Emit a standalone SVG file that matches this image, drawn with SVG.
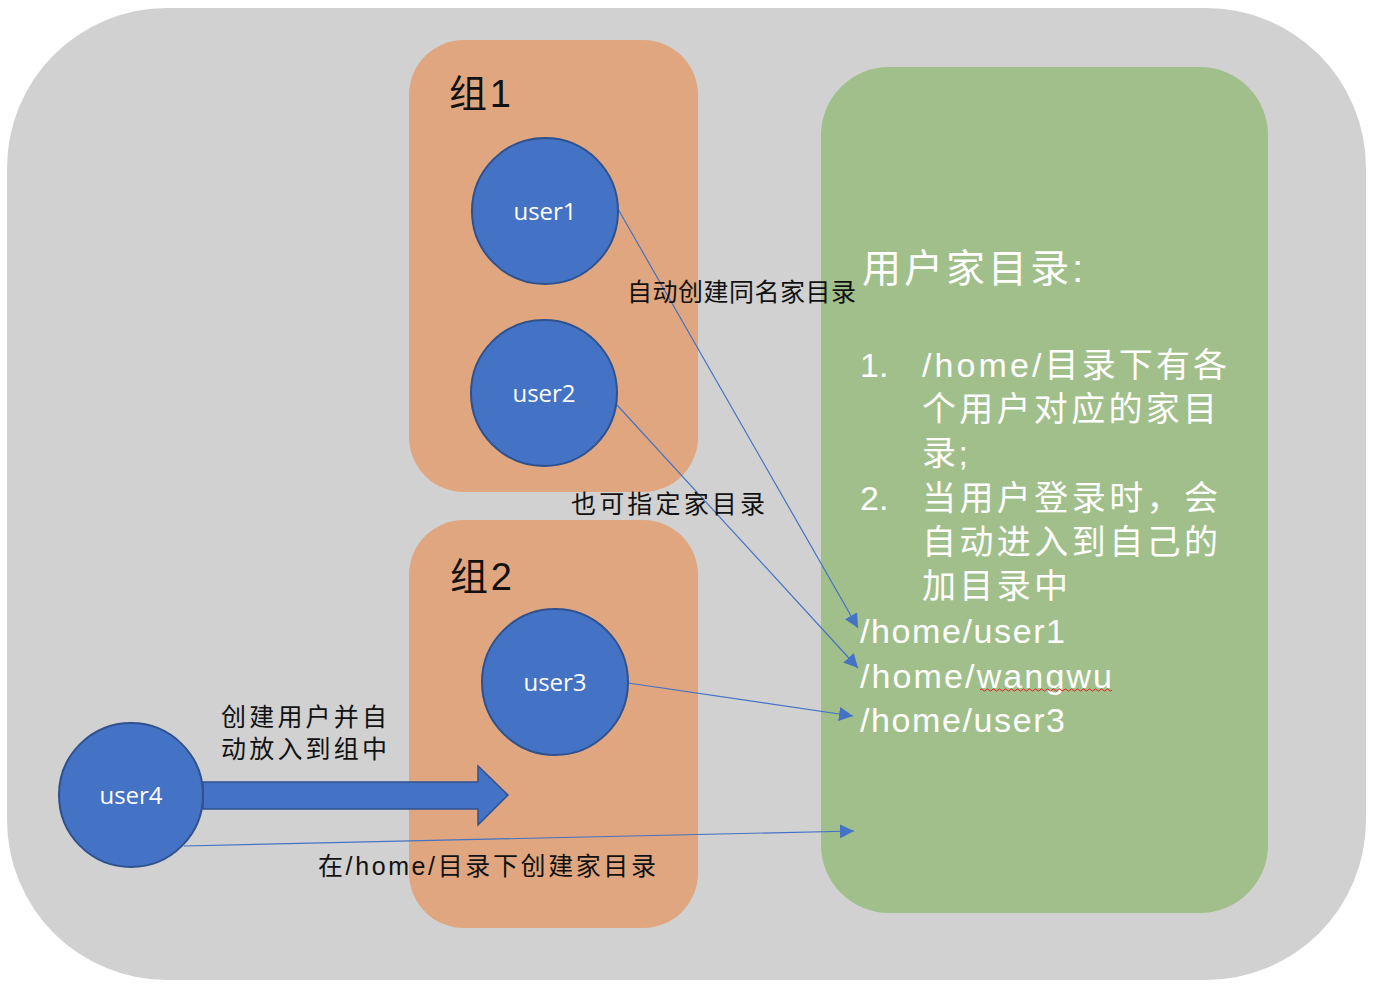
<svg xmlns="http://www.w3.org/2000/svg" width="1373" height="987" viewBox="0 0 1373 987">
<style>
.user{fill:#4472C4;stroke:#2F528F;stroke-width:2}
.ut{fill:#fff;font-family:"Open Sans","Noto Sans","DejaVu Sans",sans-serif;font-size:24px;text-anchor:middle}
.lbl{fill:#111;font-family:"Liberation Sans","Noto Sans CJK SC",sans-serif;font-size:25px}
.gt{fill:#111;font-family:"Liberation Sans","Noto Sans CJK SC",sans-serif;font-size:38px}
.wt{fill:#fff;font-family:"Liberation Sans","Noto Sans CJK SC",sans-serif;font-size:34px}
.wt.title{font-size:39px}
.conn{stroke:#4472C4;stroke-width:1.2;fill:none;marker-end:url(#ah)}
</style>
<defs>
<marker id="ah" viewBox="0 0 10 10" refX="10" refY="5" markerWidth="14" markerHeight="14" markerUnits="userSpaceOnUse" orient="auto">
<path d="M0,0 L10,5 L0,10 z" fill="#4472C4"/>
</marker>
</defs>
<rect width="1373" height="987" fill="#fff"/>
<g id="background"><rect x="7" y="8" width="1359" height="972" rx="160" ry="160" fill="#D1D1D1"/></g>
<g id="group1"><rect x="409" y="40" width="289" height="452" rx="55" ry="55" fill="#E0A67F"/><text class="gt" x="449" y="107" textLength="62" lengthAdjust="spacing">组1</text></g>
<g id="group2"><rect x="409" y="520" width="289" height="408" rx="55" ry="55" fill="#E0A67F"/><text class="gt" x="450" y="590" textLength="62" lengthAdjust="spacing">组2</text></g>
<g id="homedir">
<rect x="821" y="67" width="447" height="846" rx="68" ry="68" fill="#A1BF8A"/>
<text class="wt title" x="862" y="282" textLength="221" lengthAdjust="spacing">用户家目录:</text>
<text class="wt" x="860" y="377">1.</text>
<text class="wt" x="922" y="377" textLength="305" lengthAdjust="spacing">/home/目录下有各</text>
<text class="wt" x="922" y="421" textLength="295" lengthAdjust="spacing">个用户对应的家目</text>
<text class="wt" x="922" y="465" textLength="46" lengthAdjust="spacing">录;</text>
<text class="wt" x="860" y="510">2.</text>
<text class="wt" x="922" y="510" textLength="296" lengthAdjust="spacing">当用户登录时，会</text>
<text class="wt" x="922" y="554" textLength="296" lengthAdjust="spacing">自动进入到自己的</text>
<text class="wt" x="922" y="598" textLength="146" lengthAdjust="spacing">加目录中</text>
<text class="wt" x="860" y="643" textLength="205" lengthAdjust="spacing">/home/user1</text>
<text class="wt" x="860" y="688" textLength="252" lengthAdjust="spacing">/home/wangwu</text>
<text class="wt" x="860" y="732" textLength="205" lengthAdjust="spacing">/home/user3</text>
<path d="M980,690 q1.5,-2 3,0 t3,0 t3,0 t3,0 t3,0 t3,0 t3,0 t3,0 t3,0 t3,0 t3,0 t3,0 t3,0 t3,0 t3,0 t3,0 t3,0 t3,0 t3,0 t3,0 t3,0 t3,0 t3,0 t3,0 t3,0 t3,0 t3,0 t3,0 t3,0 t3,0 t3,0 t3,0 t3,0 t3,0 t3,0 t3,0 t3,0 t3,0 t3,0 t3,0 t3,0 t3,0 t3,0 t3,0" fill="none" stroke="#E02020" stroke-width="1"/>
</g>
<g id="connectors">
<line class="conn" x1="618" y1="209" x2="858" y2="628"/>
<line class="conn" x1="617" y1="405" x2="858" y2="668"/>
<line class="conn" x1="628" y1="683" x2="853" y2="716"/>
<line class="conn" x1="184" y1="846" x2="854" y2="831"/>
<path d="M203,782 L478,782 L478,766 L508,795 L478,825 L478,809 L203,809 z" fill="#4472C4" stroke="#2F528F" stroke-width="1.5"/>
</g>
<g id="user1"><circle class="user" cx="545" cy="211" r="73"/><text class="ut" x="545" y="220">user1</text></g>
<g id="user2"><circle class="user" cx="544" cy="393" r="73"/><text class="ut" x="544" y="402">user2</text></g>
<g id="user3"><circle class="user" cx="555" cy="682" r="73"/><text class="ut" x="555" y="691">user3</text></g>
<g id="user4"><circle class="user" cx="131" cy="795" r="72"/><text class="ut" x="131" y="804">user4</text></g>
<g id="labels">
<text class="lbl" x="627" y="301" textLength="229" lengthAdjust="spacing">自动创建同名家目录</text>
<text class="lbl" x="571" y="513" textLength="194" lengthAdjust="spacing">也可指定家目录</text>
<text class="lbl" x="221" y="726" textLength="166" lengthAdjust="spacing">创建用户并自</text>
<text class="lbl" x="221" y="758" textLength="166" lengthAdjust="spacing">动放入到组中</text>
<text class="lbl" x="318" y="875" textLength="338" lengthAdjust="spacing">在/home/目录下创建家目录</text>
</g>
</svg>
